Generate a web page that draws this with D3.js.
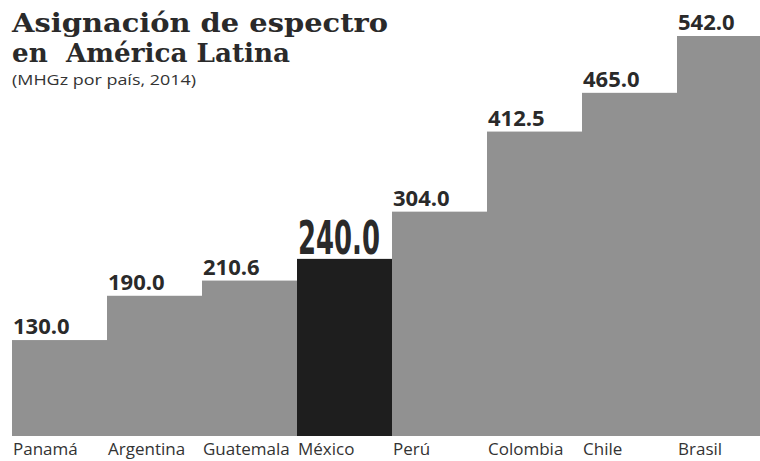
<!DOCTYPE html>
<html>
<head>
<meta charset="utf-8">
<script src="https://cdn.jsdelivr.net/npm/d3@7"></script>
<style>
  body { margin: 0; background: #fff; }
  svg { display: block; }
</style>
</head>
<body>
<svg width="760" height="461"></svg>
<script>
var countries = ['Panamá', 'Argentina', 'Guatemala', 'México', 'Perú', 'Colombia', 'Chile', 'Brasil'];
var values = [130.0, 190.0, 210.6, 240.0, 304.0, 412.5, 465.0, 542.0];
var highlight = 'México';

var svg = d3.select('svg');

var x = d3.scaleBand().domain(countries).range([12, 772]).paddingInner(0).paddingOuter(0);
var y = d3.scaleLinear().domain([0, 542]).range([436, 36]);

var data = countries.map(function(c, i){
    return {country: c, value: values[i]};
});

// title
svg.append('text')
    .attr('x', 12).attr('y', 32)
    .style('font-family', 'DejaVu Serif').style('font-weight', 'bold')
    .style('font-size', '26px').style('fill', '#2a2a2a')
    .attr('textLength', 376).attr('lengthAdjust', 'spacingAndGlyphs')
    .text('Asignación de espectro');
svg.append('text')
    .attr('x', 12).attr('y', 62)
    .style('font-family', 'DejaVu Serif').style('font-weight', 'bold')
    .style('font-size', '26px').style('fill', '#2a2a2a')
    .style('white-space', 'pre')
    .attr('textLength', 278).attr('lengthAdjust', 'spacingAndGlyphs')
    .text('en  América Latina');
svg.append('text')
    .attr('x', 12).attr('y', 85)
    .style('font-family', 'Open Sans').style('font-size', '15px')
    .style('fill', '#333')
    .attr('textLength', 184).attr('lengthAdjust', 'spacingAndGlyphs')
    .text('(MHGz por país, 2014)');

// bars
svg.append('g').attr('class', 'bars')
    .selectAll('rect')
    .data(data)
    .join('rect')
    .attr('x', function(d){ return x(d.country); })
    .attr('y', function(d){ return y(d.value); })
    .attr('width', x.bandwidth() + 0.5)
    .attr('height', function(d){ return y(0) - y(d.value); })
    .style('fill', function(d){ return d.country === highlight ? '#1e1e1e' : '#919191'; });

// value labels
svg.append('g').attr('class', 'values')
    .selectAll('text')
    .data(data)
    .join('text')
    .attr('x', function(d){ return x(d.country) + 1; })
    .attr('y', function(d){ return y(d.value) - (d.country === highlight ? 5 : 6); })
    .style('font-family', function(d){ return d.country === highlight ? 'Liberation Sans Narrow, DejaVu Sans Condensed' : 'Open Sans'; })
    .style('font-weight', 'bold')
    .style('font-size', function(d){ return d.country === highlight ? '46px' : '22px'; })
    .style('fill', '#2a2a2a')
    .each(function(d){
        if (d.country === highlight) {
            d3.select(this).attr('textLength', 82).attr('lengthAdjust', 'spacingAndGlyphs');
        }
    })
    .text(function(d){ return d3.format('.1f')(d.value); });

// country labels
svg.append('g').attr('class', 'countries')
    .selectAll('text')
    .data(data)
    .join('text')
    .attr('x', function(d){ return x(d.country) + 1; })
    .attr('y', 455)
    .style('font-family', 'Open Sans')
    .style('font-size', '17px')
    .style('fill', '#333')
    .text(function(d){ return d.country; });
</script>
</body>
</html>
